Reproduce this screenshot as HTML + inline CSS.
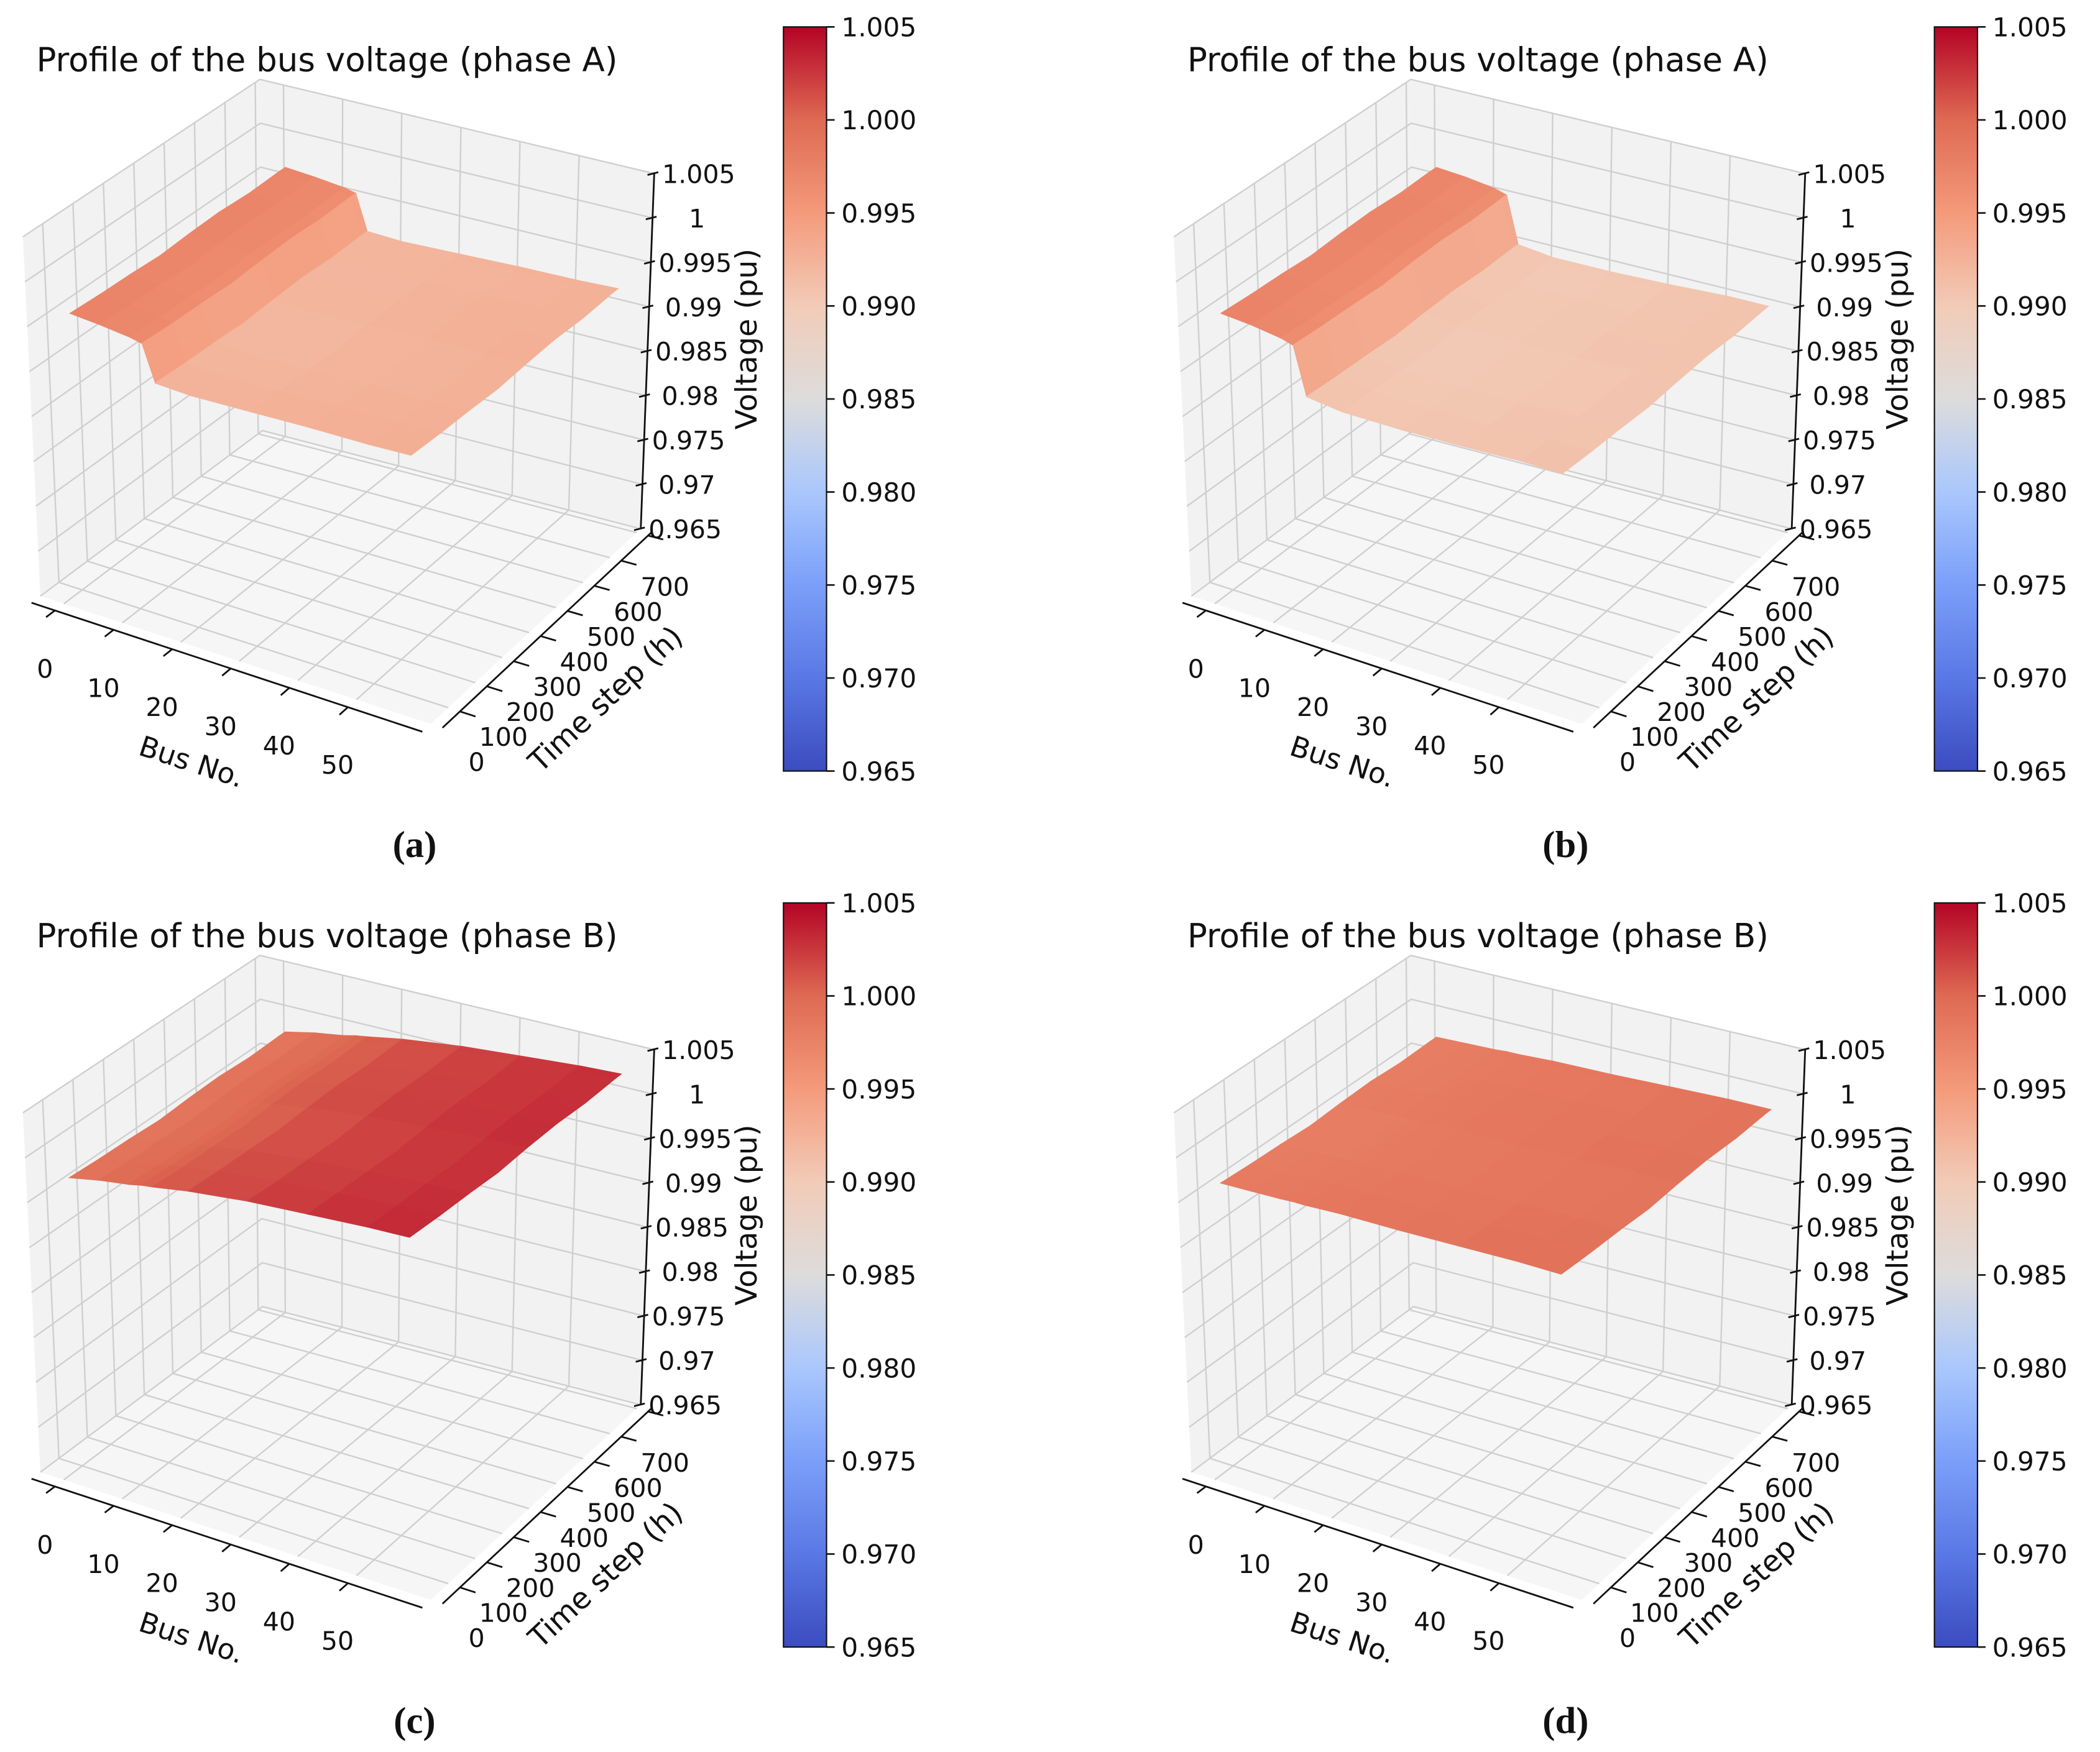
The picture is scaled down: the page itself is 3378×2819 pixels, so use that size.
<!DOCTYPE html>
<html><head><meta charset="utf-8"><style>
html,body{margin:0;padding:0;background:#fff}
svg{display:block}
text{font-family:"DejaVu Sans","Liberation Sans",sans-serif;fill:#111}
.cap{font-family:"Liberation Serif",serif;font-weight:bold}
</style></head><body>
<svg id="fig" xmlns="http://www.w3.org/2000/svg" width="3378" height="2819" viewBox="0 0 1560 1302" preserveAspectRatio="none">
<defs>
<linearGradient id="cw" x1="0" y1="1" x2="0" y2="0">
<stop offset="0" stop-color="#3b4cc0"/><stop offset="0.125" stop-color="#5a78e4"/><stop offset="0.25" stop-color="#7b9ff9"/><stop offset="0.375" stop-color="#aac7fd"/><stop offset="0.5" stop-color="#dddcdc"/><stop offset="0.625" stop-color="#f2cbb7"/><stop offset="0.75" stop-color="#f49a7b"/><stop offset="0.875" stop-color="#de6a53"/><stop offset="1" stop-color="#b40426"/>
</linearGradient>
</defs>
</svg>
<script>
// ---- data ----
const busIdx = [0,5,10,12,14,20,30,40,50,57];
const timeIdx = [0,100,200,300,400,500,600,700,720];
const timeOffset = [0.0003,0.0001,0,-0.0002,0,0.0001,-0.0001,0,0];
const voltA1 = [0.9955,0.9952,0.9948,0.9945,0.9905,0.9903,0.9905,0.9907,0.9908,0.991];
const voltA2 = [0.9955,0.9952,0.9947,0.9943,0.989,0.9885,0.9885,0.9887,0.989,0.989];
const voltB1 = [0.9968,0.9975,0.998,0.9983,0.9985,0.9992,1.0,1.0005,1.001,1.0012];
const voltB2 = [0.9962,0.9963,0.9964,0.9965,0.9965,0.9967,0.9968,0.997,0.9972,0.9972];
const busTicks = [0,10,20,30,40,50];
const timeTicks = [0,100,200,300,400,500,600,700];
const zTicks = [0.965,0.97,0.975,0.98,0.985,0.99,0.995,1,1.005];
const zTickLabels = ["0.965","0.97","0.975","0.98","0.985","0.99","0.995","1","1.005"];
const cbTicks = ["0.965","0.970","0.975","0.980","0.985","0.990","0.995","1.000","1.005"];

const NS="http://www.w3.org/2000/svg";
const svg=document.getElementById('fig');
function mk(tag,attrs,parent){const e=document.createElementNS(NS,tag);for(const k in attrs)e.setAttribute(k,attrs[k]);(parent||svg).appendChild(e);return e;}

const cwStops=[[0,[59,76,192]],[0.125,[90,120,228]],[0.25,[123,159,249]],[0.375,[170,199,253]],[0.5,[221,220,220]],[0.625,[242,203,183]],[0.75,[244,154,123]],[0.875,[222,106,83]],[1,[180,4,38]]];
function cw(f){f=Math.max(0,Math.min(1,f));for(let i=1;i<cwStops.length;i++){if(f<=cwStops[i][0]){const a=cwStops[i-1],b=cwStops[i];const u=(f-a[0])/(b[0]-a[0]);const c=a[1].map((v,k)=>Math.round(v+(b[1][k]-v)*u));return `rgb(${c[0]},${c[1]},${c[2]})`;}}return 'rgb(180,4,38)';}

const VMIN=0.965,VMAX=1.005;
const bScale=bus=>(bus+4)/66.7;
const tScale=tm=>(tm+65)/780;
const zScale=v=>(v-VMIN)/(VMAX-VMIN);
const colorShift=0.0018;
const A=[30,443],B=[320,538],C=[476,393],D=[195,320];
const HA=267,HB=275,HC=264,HD=261, XA=-13,XB=-5,XC=10,XD=-2;
function bil(a,b,c,d,u,t){return (1-u)*(1-t)*a+u*(1-t)*b+u*t*c+(1-u)*t*d;}
function P(u,t,z){return [bil(A[0],B[0],C[0],D[0],u,t)+z*bil(XA,XB,XC,XD,u,t), bil(A[1],B[1],C[1],D[1],u,t)-z*bil(HA,HB,HC,HD,u,t)];}
const pt=p=>p[0].toFixed(1)+','+p[1].toFixed(1);

function panel(dx,dy,title,volts,cap,key){
  const g=mk('g',{transform:`translate(${dx},${dy})`});
  
  
  const lp=mk('polygon',{points:[P(0,0,1),P(0,1,1),P(0,1,0),P(0,0,0)].map(pt).join(' '),fill:'#f2f2f2',stroke:'none'},g);
  
  const rp=mk('polygon',{points:[P(0,1,1),P(1,1,1),P(1,1,0),P(0,1,0)].map(pt).join(' '),fill:'#f2f2f2',stroke:'none'},g);
  
  const fp=mk('polygon',{points:[P(0,0,0),P(1,0,0),P(1,1,0),P(0,1,0)].map(pt).join(' '),fill:'#f6f6f6',stroke:'none'},g);
  
  const gs={stroke:'#cfcfcf','stroke-width':1.1,fill:'none'};
  busTicks.forEach(bv=>{const u=bScale(bv);
    let l=mk('polyline',Object.assign({points:[P(u,0,0),P(u,1,0),P(u,1,1)].map(pt).join(' ')},gs),g);
    });
  timeTicks.forEach(tv=>{const t=tScale(tv);
    let l=mk('polyline',Object.assign({points:[P(1,t,0),P(0,t,0),P(0,t,1)].map(pt).join(' ')},gs),g);
    });
  zTicks.forEach(zv=>{const z=zScale(zv);
    let l=mk('polyline',Object.assign({points:[P(0,0,z),P(0,1,z),P(1,1,z)].map(pt).join(' ')},gs),g);
    });
  const sg=mk('g',{},g);
  
  for(let j=timeIdx.length-2;j>=0;j--){
    for(let i=0;i<busIdx.length-1;i++){
      const v00=volts[i]+timeOffset[j],v10=volts[i+1]+timeOffset[j],v11=volts[i+1]+timeOffset[j+1],v01=volts[i]+timeOffset[j+1];
      const u0=bScale(busIdx[i]),u1=bScale(busIdx[i+1]),t0=tScale(timeIdx[j]),t1=tScale(timeIdx[j+1]);
      const col=cw(zScale((v00+v10+v11+v01)/4+colorShift));
      const q=mk('polygon',{points:[P(u0,t0,zScale(v00)),P(u1,t0,zScale(v10)),P(u1,t1,zScale(v11)),P(u0,t1,zScale(v01))].map(pt).join(' '),fill:col,stroke:col,'stroke-width':0.8},sg);
      
    }
  }
  const ax={stroke:'#111','stroke-width':1.3,fill:'none'};
  let l=mk('line',Object.assign({x1:P(0,-0.04,0)[0],y1:P(0,-0.04,0)[1],x2:P(1,-0.04,0)[0],y2:P(1,-0.04,0)[1]},ax),g);
  
  l=mk('line',Object.assign({x1:P(1.03,0,0)[0],y1:P(1.03,0,0)[1],x2:P(1.03,1,0)[0],y2:P(1.03,1,0)[1]},ax),g);
  
  l=mk('line',Object.assign({x1:P(1,1,0)[0],y1:P(1,1,0)[1],x2:P(1,1,1)[0],y2:P(1,1,1)[1]},ax),g);
  
  busTicks.forEach(bv=>{const u=bScale(bv);const a=P(u,-0.04,0),b=P(u,-0.08,0);
    let tk=mk('line',Object.assign({x1:a[0],y1:a[1],x2:b[0],y2:b[1]},ax),g);
    
    const f=P(u,0,0);const tx=mk('text',{x:f[0]-14,y:f[1]+55,'font-size':19,'text-anchor':'middle'},g);tx.textContent=bv;
    });
  timeTicks.forEach(tv=>{const t=tScale(tv);const a=P(1.03,t,0),b=P(1.07,t,0);
    let tk=mk('line',Object.assign({x1:a[0],y1:a[1],x2:b[0],y2:b[1]},ax),g);
    
    const f=P(1,t,0);const tx=mk('text',{x:f[0]+21,y:f[1]+47,'font-size':19,'text-anchor':'middle'},g);tx.textContent=tv;
    });
  zTicks.forEach((zv,k)=>{const z=zScale(zv);const a=P(1,1,z);
    let tk=mk('line',Object.assign({x1:a[0]-5,y1:a[1]+1,x2:a[0]+3,y2:a[1]-1},ax),g);
    
    const tx=mk('text',{x:a[0]+33,y:a[1]+7,'font-size':19,'text-anchor':'middle'},g);tx.textContent=zTickLabels[k];
    });
  let t=mk('text',{x:27,y:53,'font-size':24.5},g);t.textContent=title;
  
  t=mk('text',{x:0,y:0,'font-size':21,'text-anchor':'middle',transform:'translate(140,573) rotate(18)'},g);t.textContent='Bus No.';
  
  t=mk('text',{x:0,y:0,'font-size':22,'text-anchor':'middle',transform:'translate(455,525) rotate(-43)'},g);t.textContent='Time step (h)';
  
  t=mk('text',{x:0,y:0,'font-size':22,'text-anchor':'middle',transform:'translate(562,252) rotate(-90)'},g);t.textContent='Voltage (pu)';
  
  const cb=mk('rect',{x:582,y:20,width:32,height:553,fill:'url(#cw)',stroke:'#111','stroke-width':1},g);
  
  cbTicks.forEach((lab,k)=>{const y=573-k*553/8;
    let tk=mk('line',{x1:614,y1:y,x2:620,y2:y,stroke:'#111','stroke-width':1.2},g);
    
    const tx=mk('text',{x:625,y:y+7,'font-size':19.5},g);tx.textContent=lab;
    });
  t=mk('text',{x:308,y:637,'font-size':28,'text-anchor':'middle','class':'cap'},g);t.textContent=cap;
  
}
panel(0,0,'Profile of the bus voltage (phase A)',voltA1,'(a)','a');
panel(855,0,'Profile of the bus voltage (phase A)',voltA2,'(b)','b');
panel(0,651,'Profile of the bus voltage (phase B)',voltB1,'(c)','c');
panel(855,651,'Profile of the bus voltage (phase B)',voltB2,'(d)','d');
</script>
</body></html>
